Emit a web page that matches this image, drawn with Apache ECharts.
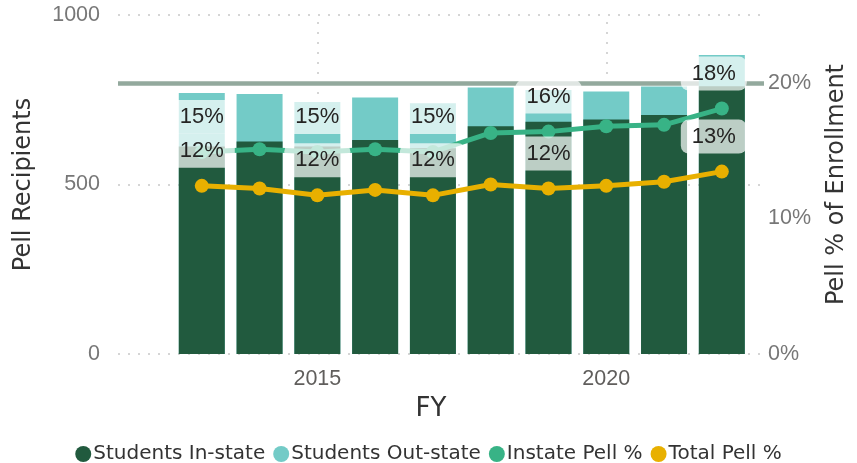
<!DOCTYPE html>
<html>
<head>
<meta charset="utf-8">
<script src="https://cdn.jsdelivr.net/npm/echarts@6/dist/echarts.min.js"></script>
<style>
html,body{margin:0;padding:0;background:#fff;}
#c{width:857px;height:463px;}
</style>
</head>
<body>
<div id="c"></div>
<script>
const years = [2013, 2014, 2015, 2016, 2017, 2018, 2019, 2020, 2021, 2022];
const inState = [612, 627, 612, 631, 607, 672, 685, 692, 705, 790];
const outState = [158, 140, 131, 126, 133, 114, 94, 82, 84, 92];
const instatePct = [14.9, 15.1, 14.9, 15.1, 14.9, 16.3, 16.4, 16.8, 16.9, 18.1];
const totalPct = [12.4, 12.2, 11.7, 12.1, 11.7, 12.5, 12.2, 12.4, 12.7, 13.45];
const labelIdx = [0, 2, 4, 6, 9];
const xTickLabels = [2015, 2020];
const refPct = 20;

const FONT = '"Liberation Sans", Arial, sans-serif';
const TFONT = '"DejaVu Sans", sans-serif';
const C_IN = '#215a3e', C_OUT = '#73cbc7', C_IPCT = '#38b386', C_TPCT = '#e8b000';

function pairs(vals){ return years.map((y,i)=>[y, vals[i]]); }
// out-state segment drawn behind in-state, topped at the stacked total
const outTop = years.map((y,i)=>[y, inState[i] + outState[i]]);
function lineData(vals){
  return years.map((y,i)=>{
    const item = {value:[y, vals[i]]};
    if (labelIdx.indexOf(i) >= 0) {
      item.label = {show:true};
      if (i === years.length - 1) item.label.offset = [-8, 0];
    }
    return item;
  });
}
const labelStyle = {
  show:false, position:'top', distance:11,
  formatter: p => Math.round(p.value[1]) + '%',
  fontFamily: FONT, fontSize:22, color:'#252423', lineHeight:22,
  backgroundColor:'rgba(255,255,255,0.7)', borderRadius:8, padding:[6,11]
};

const chart = echarts.init(document.getElementById('c'), null, {renderer:'canvas'});
chart.setOption({
  animation:false,
  grid:{left:118, right:85, top:15, bottom:109, containLabel:false},
  legend:{
    data:['Students In-state','Students Out-state','Instate Pell %','Total Pell %'],
    left:'center', top:439, icon:'circle', itemWidth:16, itemHeight:16, itemGap:8,
    textStyle:{fontFamily:TFONT, fontSize:20, color:'#333', padding:[0,0,0,-3]}
  },
  xAxis:{
    type:'value', min:2011.55, max:2022.73,
    name:'FY', nameLocation:'middle', nameGap:42,
    nameTextStyle:{fontFamily:TFONT, fontSize:26, color:'#333', padding:[0,20,0,0]},
    axisLine:{show:false}, axisTick:{show:false}, splitLine:{show:false},
    axisLabel:{customValues:xTickLabels, formatter:v=>String(v), margin:14,
      fontFamily:FONT, fontSize:21.5, color:'#605e5c'}
  },
  yAxis:[{
    type:'value', min:0, max:1000, interval:500,
    name:'Pell Recipients', nameLocation:'middle', nameGap:82, nameRotate:90,
    nameTextStyle:{fontFamily:TFONT, fontSize:24, color:'#333'},
    axisLine:{show:false}, axisTick:{show:false},
    axisLabel:{margin:18, formatter:v=>String(v), fontFamily:FONT, fontSize:21.5, color:'#777'},
    splitLine:{show:true, lineStyle:{type:[2,8], color:'#c8c8c8', width:1.5}}
  },{
    type:'value', min:0, max:25, interval:10, position:'right',
    name:'Pell % of Enrollment', nameLocation:'middle', nameGap:61, nameRotate:90,
    nameTextStyle:{fontFamily:TFONT, fontSize:24, color:'#333'},
    axisLine:{show:false}, axisTick:{show:false}, splitLine:{show:false},
    axisLabel:{margin:4, showMaxLabel:false, formatter:'{value}%', fontFamily:FONT, fontSize:21.5, color:'#777'}
  }],
  series:[{
    name:'Students Out-state', type:'bar', barWidth:46, barGap:'-100%', z:6,
    itemStyle:{color:C_OUT}, data:outTop, emphasis:{disabled:true}
  },{
    name:'Students In-state', type:'bar', barWidth:46, barGap:'-100%', z:6,
    itemStyle:{color:C_IN}, data:pairs(inState), emphasis:{disabled:true},
    markLine:{
      silent:true, symbol:'none', z:1, label:{show:false},
      lineStyle:{type:[2,8], color:'#c8c8c8', width:1.5},
      data: xTickLabels.map(v=>({xAxis:v}))
    }
  },{
    name:'Instate Pell %', type:'line', yAxisIndex:1, z:7,
    symbol:'circle', symbolSize:14, showAllSymbol:true,
    lineStyle:{color:C_IPCT, width:5}, itemStyle:{color:C_IPCT},
    label:labelStyle, data:lineData(instatePct), emphasis:{disabled:true},
    markLine:{
      silent:true, symbol:'none', z:1, label:{show:false},
      lineStyle:{type:'solid', color:'#93a99d', width:4.5},
      data:[{yAxis:refPct}]
    }
  },{
    name:'Total Pell %', type:'line', yAxisIndex:1, z:7,
    symbol:'circle', symbolSize:14, showAllSymbol:true,
    lineStyle:{color:C_TPCT, width:5}, itemStyle:{color:C_TPCT},
    label:labelStyle, data:lineData(totalPct), emphasis:{disabled:true}
  }]
});
</script>
</body>
</html>
